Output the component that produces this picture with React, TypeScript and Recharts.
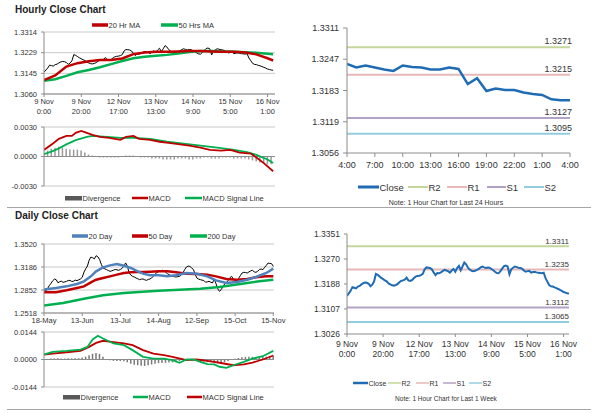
import React from 'react';
import { ComposedChart, Line, Bar, XAxis, YAxis, CartesianGrid, ReferenceLine } from 'recharts';

const FONT = "'Liberation Sans', Arial, Helvetica, sans-serif";
const TXT = '#333333';
const AXIS = '#8c8c8c';
const GRID = '#c9c9c9';
const RED = '#c00000';
const GREEN = '#00b050';
const BLUE20 = '#4f81bd';
const CLOSE_BLUE = '#1f6cb5';
const DIV_GRAY = '#9a9a9a';
const PIVOT_COLORS = ['#c3d69b', '#e6b9b8', '#b3a2c7', '#93cddd'];

// ---------------- Hourly (last week, 1 hour) ----------------
const hourlyTickIdx = [0, 20, 40, 60, 80, 100, 120];
const hourlyTickDay = ['9 Nov', '9 Nov', '12 Nov', '13 Nov', '14 Nov', '15 Nov', '16 Nov'];
const hourlyTickTime = ['0:00', '20:00', '17:00', '13:00', '9:00', '5:00', '1:00'];

const hourlyClose = [
  1.3149, 1.3158, 1.3166, 1.3178, 1.3176, 1.3174, 1.3180, 1.3182, 1.3187, 1.3191,
  1.3193, 1.3192, 1.3189, 1.3181, 1.3186, 1.3196, 1.3221, 1.3218, 1.3213, 1.3208,
  1.3204, 1.3200, 1.3197, 1.3190, 1.3187, 1.3184, 1.3183, 1.3185, 1.3188, 1.3194,
  1.3198, 1.3200, 1.3202, 1.3209, 1.3200, 1.3198, 1.3201, 1.3207, 1.3212, 1.3214,
  1.3215, 1.3217, 1.3221, 1.3236, 1.3242, 1.3241, 1.3240, 1.3236, 1.3226, 1.3217,
  1.3224, 1.3223, 1.3226, 1.3230, 1.3234, 1.3232, 1.3230, 1.3225, 1.3232, 1.3237,
  1.3228, 1.3240, 1.3247, 1.3233, 1.3245, 1.3258, 1.3252, 1.3241, 1.3235, 1.3231,
  1.3230, 1.3231, 1.3234, 1.3237, 1.3242, 1.3245, 1.3242, 1.3240, 1.3242, 1.3241,
  1.3237, 1.3233, 1.3228, 1.3224, 1.3223, 1.3230, 1.3238, 1.3246, 1.3248, 1.3245,
  1.3220, 1.3236, 1.3241, 1.3245, 1.3243, 1.3241, 1.3240, 1.3238, 1.3232, 1.3228,
  1.3230, 1.3231, 1.3225, 1.3227, 1.3228, 1.3226, 1.3225, 1.3224, 1.3223, 1.3225,
  1.3207, 1.3196, 1.3185, 1.3181, 1.3180, 1.3177, 1.3175, 1.3172, 1.3169, 1.3166,
  1.3162, 1.3160, 1.3158, 1.3157,
];
const hourlyMaIdx = [0, 6, 12, 18, 24, 30, 36, 42, 48, 54, 60, 66, 72, 78, 84, 90, 96, 102, 108, 114, 120, 123];
const hourlyMa20 = [1.3117, 1.3136, 1.3172, 1.3186, 1.3194, 1.3199, 1.3199, 1.3205, 1.3223, 1.3230, 1.3233, 1.3233, 1.3234, 1.3236, 1.3236, 1.3234, 1.3233, 1.3233, 1.3230, 1.3222, 1.3206, 1.3197];
const hourlyMa50 = [1.3114, 1.3120, 1.3134, 1.3149, 1.3158, 1.3169, 1.3182, 1.3195, 1.3206, 1.3212, 1.3216, 1.3220, 1.3226, 1.3232, 1.3236, 1.3236, 1.3234, 1.3233, 1.3231, 1.3229, 1.3225, 1.3223];
const hourlyYTicks = [1.30597, 1.31443, 1.3229, 1.33137];
const hourlyYLabels = ['1.3060', '1.3145', '1.3229', '1.3314'];

const hourlyMacdIdx = [0, 5, 8, 12, 15, 17, 20, 23, 26, 30, 35, 41, 44, 48, 51, 57, 62, 68, 73, 78, 84, 89, 95, 100, 105, 111, 114, 118, 123];
const hourlyMacd = [0.00067, 0.00134, 0.0018, 0.0021, 0.0021, 0.0024, 0.0026, 0.0024, 0.0022, 0.0020, 0.0019, 0.0017, 0.0020, 0.0021, 0.0018, 0.0017, 0.0015, 0.00137, 0.00124, 0.0011, 0.0009, 0.00067, 0.0006, 0.00067, 0.0004, 0.0003, -0.0001, -0.00067, -0.0015];
const hourlySignalIdx = [0, 5, 8, 12, 17, 23, 26, 34, 41, 48, 57, 66, 75, 84, 93, 102, 109, 114, 120, 123];
const hourlySignal = [0.00023, 0.00057, 0.00083, 0.00123, 0.00167, 0.0020, 0.0021, 0.0020, 0.0019, 0.0019, 0.0018, 0.0015, 0.0013, 0.0011, 0.0009, 0.00067, 0.00044, 0.00017, -0.0003, -0.00067];
const hourlyDiv = [
  0.0004, 0.0006, 0.0008, 0.0009, 0.0010, 0.0009, 0.0008, 0.0007, 0.0007, 0.0007,
  0.0006, 0.0004, 0.0002, 0.0001, 0.0000, -0.0001, -0.0001, -0.0001, -0.0001, -0.0001,
  -0.0001, 0.0000, 0.0001, 0.0001, 0.0001, 0.0000, -0.0001, -0.0001, -0.0001, -0.0002,
  -0.0002, -0.0002, -0.0003, -0.0003, -0.0003, -0.0003, -0.0002, -0.0002, -0.0002, -0.0003,
  -0.0003, -0.0002, -0.0002, -0.0001, -0.0001, -0.0002, -0.0002, -0.0002, -0.0001, -0.0001,
  -0.0001, -0.0002, -0.0002, -0.0002, -0.0002, -0.0003, -0.0004, -0.0005, -0.0006, -0.0007,
  -0.0008, -0.0008,
];
const hourlyMacdTicks = [-0.003, 0, 0.003];
const hourlyMacdLabels = ['-0.0030', '0.0000', '0.0030'];

// ---------------- Last 24 hours ----------------
const dayTickIdx = [0, 3, 6, 9, 12, 15, 18, 21, 24];
const dayTickLabels = ['4:00', '7:00', '10:00', '13:00', '16:00', '19:00', '22:00', '1:00', '4:00'];
const dayClose = [
  1.3237, 1.3230, 1.3234, 1.3230, 1.3226, 1.3223, 1.3234, 1.3231, 1.3230, 1.3226,
  1.3226, 1.3230, 1.3227, 1.3196, 1.3208, 1.3182, 1.3187, 1.3184, 1.3184, 1.3179,
  1.3176, 1.3174, 1.3165, 1.3163, 1.3163,
];
const dayYTicks = [1.30555, 1.31193, 1.3183, 1.32468, 1.33105];
const dayYLabels = ['1.3056', '1.3119', '1.3183', '1.3247', '1.3311'];
const pivotNames = ['R2', 'R1', 'S1', 'S2'];
const pivotsDay = [1.3271, 1.3215, 1.3127, 1.3095];
const pivotLabelsDay = ['1.3271', '1.3215', '1.3127', '1.3095'];

// ---------------- Week chart (right bottom) ----------------
const weekYTicks = [1.30257, 1.3107, 1.31882, 1.32695, 1.33507];
const weekYLabels = ['1.3026', '1.3107', '1.3188', '1.3270', '1.3351'];
const pivotsWeek = [1.3311, 1.3235, 1.3112, 1.3065];
const pivotLabelsWeek = ['1.3311', '1.3235', '1.3112', '1.3065'];

// ---------------- Daily ----------------
const dailyTickIdx = [0, 22, 44, 66, 88, 110, 132];
const dailyTickLabels = ['18-May', '13-Jun', '13-Jul', '14-Aug', '12-Sep', '15-Oct', '15-Nov'];
const dailyClose = [
  1.2860, 1.2838, 1.2870, 1.2915, 1.2948, 1.2985, 1.3010, 1.3002, 1.2958, 1.2972,
  1.2980, 1.2963, 1.2970, 1.2978, 1.2990, 1.2992, 1.2975, 1.2980, 1.2995, 1.2988,
  1.3000, 1.3012, 1.3035, 1.3110, 1.3160, 1.3200, 1.3285, 1.3330, 1.3320, 1.3305,
  1.3350, 1.3335, 1.3295, 1.3225, 1.3170, 1.3160, 1.3148, 1.3135, 1.3123, 1.3130,
  1.3140, 1.3150, 1.3145, 1.3138, 1.3150, 1.3168, 1.3200, 1.3245, 1.3200, 1.3100,
  1.3068, 1.3050, 1.3040, 1.3026, 1.3015, 1.3002, 1.3010, 1.3012, 1.3000, 1.2992,
  1.3005, 1.3012, 1.3030, 1.3050, 1.3085, 1.3105, 1.3118, 1.3125, 1.3140, 1.3130,
  1.3110, 1.3090, 1.3075, 1.3062, 1.3050, 1.3045, 1.3041, 1.3046, 1.3050, 1.3070,
  1.3099, 1.3150, 1.3186, 1.3200, 1.3195, 1.3172, 1.3150, 1.3080, 1.3026, 1.3010,
  1.3002, 1.2995, 1.2990, 1.2965, 1.2970, 1.2978, 1.2965, 1.2954, 1.3010, 1.2945,
  1.2870, 1.2833, 1.2857, 1.2900, 1.2940, 1.2960, 1.2990, 1.3030, 1.3050, 1.3012,
  1.2990, 1.2978, 1.3020, 1.3060, 1.3099, 1.3109, 1.3105, 1.3099, 1.3115, 1.3130,
  1.3138, 1.3115, 1.3109, 1.3123, 1.3150, 1.3157, 1.3147, 1.3180, 1.3210, 1.3244,
  1.3238, 1.3234, 1.3196,
];
const dailyMaIdx = [0, 7, 13, 19, 23, 27, 30, 34, 38, 42, 46, 50, 54, 57, 61, 66, 71, 76, 82, 88, 94, 99, 105, 111, 117, 122, 128, 132];
const dailyMa20 = [1.2860, 1.2881, 1.2905, 1.2939, 1.2978, 1.3050, 1.3123, 1.3181, 1.3210, 1.3230, 1.3205, 1.3172, 1.3123, 1.3089, 1.3065, 1.3065, 1.3050, 1.3065, 1.3099, 1.3089, 1.3050, 1.2992, 1.2954, 1.2968, 1.3002, 1.3041, 1.3099, 1.3162];
const dailyMa50 = [1.2818, 1.2818, 1.2847, 1.2881, 1.2905, 1.2963, 1.3002, 1.3026, 1.3050, 1.3075, 1.3099, 1.3109, 1.3112, 1.3114, 1.3118, 1.3123, 1.3123, 1.3109, 1.3089, 1.3084, 1.3075, 1.3050, 1.3012, 1.3002, 1.3012, 1.3036, 1.3050, 1.3050];
const dailyMa200Idx = [0, 11, 23, 34, 46, 57, 66, 78, 90, 101, 113, 124, 132];
const dailyMa200 = [1.2625, 1.2663, 1.2726, 1.2775, 1.2809, 1.2828, 1.2842, 1.2857, 1.2871, 1.2896, 1.2939, 1.2978, 1.3002];
const dailyYTicks = [1.2518, 1.2852, 1.3186, 1.3520];
const dailyYLabels = ['1.2518', '1.2852', '1.3186', '1.3520'];

const dailyMacdIdx = [0, 5, 13, 21, 25, 28, 31, 34, 40, 46, 51, 57, 63, 69, 74, 78, 82, 86, 90, 94, 98, 101, 105, 109, 115, 120, 126, 132];
const dailyMacd = [0.0026, 0.0040, 0.0045, 0.0052, 0.0066, 0.0105, 0.0124, 0.0110, 0.0084, 0.0075, 0.0049, 0.0014, 0.0005, 0.0005, -0.0003, -0.0017, 0.0000, 0.0000, -0.0012, -0.0024, -0.0026, -0.0038, -0.0044, -0.0030, -0.0012, 0.0005, 0.0017, 0.0045];
const dailySignalIdx = [0, 5, 13, 21, 26, 30, 34, 40, 46, 51, 57, 63, 69, 74, 82, 88, 94, 101, 109, 115, 120, 126, 132];
const dailySignal = [0.0026, 0.0031, 0.0038, 0.0045, 0.0066, 0.0087, 0.0098, 0.0091, 0.0084, 0.0075, 0.0049, 0.0031, 0.0023, 0.0014, -0.0003, 0.0000, -0.0007, -0.0017, -0.0030, -0.0026, -0.0016, 0.0000, 0.0021];
const dailyDiv = [
  0.0001, 0.0003, 0.0005, 0.0006, 0.0006, 0.0005, 0.0005, 0.0006, 0.0006, 0.0006,
  0.0007, 0.0010, 0.0015, 0.0022, 0.0030, 0.0034, 0.0030, 0.0015, 0.0003, -0.0004,
  -0.0007, -0.0008, -0.0008, -0.0009, -0.0015, -0.0022, -0.0027, -0.0030, -0.0033, -0.0034,
  -0.0030, -0.0026, -0.0022, -0.0019, -0.0018, -0.0017, -0.0016, -0.0015, -0.0012, -0.0008,
  -0.0002, 0.0003, 0.0002, 0.0000, -0.0004, -0.0008, -0.0012, -0.0014, -0.0013, -0.0012,
  -0.0015, -0.0016, -0.0014, -0.0008, -0.0002, 0.0004, 0.0008, 0.0012, 0.0013, 0.0014,
  0.0014, 0.0013, 0.0013, 0.0014, 0.0015, 0.0017, 0.0019,
];
const dailyMacdTicks = [-0.0144, 0, 0.0144];
const dailyMacdLabels = ['-0.0144', '0.0000', '0.0144'];

// ---------------- helpers ----------------
const range = (n: number) => Array.from({ length: n }, (_, k) => k);
const evens = (n: number) => Array.from({ length: n }, (_, k) => 2 * k);

function buildRows(n: number, cols: Array<[string, number[], number[]]>) {
  const out: Array<Record<string, number>> = range(n).map((i) => ({ i }));
  cols.forEach(([key, idx, val]) => {
    idx.forEach((ix, k) => {
      if (out[ix]) out[ix][key] = val[k];
    });
  });
  return out;
}

const labelFor = (ticks: number[], labels: string[]) => (v: number) => {
  let best = 0;
  ticks.forEach((t, k) => {
    if (Math.abs(t - v) < Math.abs(ticks[best] - v)) best = k;
  });
  return labels[best];
};

const hourlyRows = buildRows(hourlyClose.length, [
  ['close', range(hourlyClose.length), hourlyClose],
  ['ma20', hourlyMaIdx, hourlyMa20],
  ['ma50', hourlyMaIdx, hourlyMa50],
  ['macd', hourlyMacdIdx, hourlyMacd],
  ['signal', hourlySignalIdx, hourlySignal],
  ['div', evens(hourlyDiv.length), hourlyDiv],
]);
const dayRows = buildRows(dayClose.length, [['close', range(dayClose.length), dayClose]]);
const dailyRows = buildRows(dailyClose.length, [
  ['close', range(dailyClose.length), dailyClose],
  ['ma20', dailyMaIdx, dailyMa20],
  ['ma50', dailyMaIdx, dailyMa50],
  ['ma200', dailyMa200Idx, dailyMa200],
  ['macd', dailyMacdIdx, dailyMacd],
  ['signal', dailySignalIdx, dailySignal],
  ['div', evens(dailyDiv.length), dailyDiv],
]);

const tickStyle = (size: number) => ({ fontSize: size, fill: TXT, fontFamily: FONT });

const TwoLineTick = (props: any) => {
  const { x, y, payload, fontSize, gap } = props;
  const k = hourlyTickIdx.indexOf(payload.value);
  return (
    <text x={x} y={y} textAnchor="middle" fontSize={fontSize} fill={TXT} fontFamily={FONT}>
      <tspan x={x} dy="0.71em">{hourlyTickDay[k]}</tspan>
      <tspan x={x} dy={gap}>{hourlyTickTime[k]}</tspan>
    </text>
  );
};

const PivotLabel = (props: any) => {
  const vb = props.viewBox || {};
  const x = (vb.x || 0) + (vb.width || 0) + (props.dx || 0);
  const y = (vb.y || 0) - (props.lift || 3);
  return (
    <text x={x} y={y} textAnchor="end" fontSize={props.fontSize} fill={TXT} fontFamily={FONT}>
      {props.text}
    </text>
  );
};

// ---------------- overlay (titles, legends, notes) ----------------
type LegendItem = { label: string; color: string; x: number; w: number; rect?: boolean; t?: number };

const LegendRow = ({ y, items, size }: { y: number; items: LegendItem[]; size: number }) => (
  <g>
    {items.map((it) => (
      <g key={it.label}>
        {it.rect ? (
          <rect x={it.x} y={y - 2} width={it.w} height={4.5} fill={it.color} />
        ) : (
          <line x1={it.x} x2={it.x + it.w} y1={y} y2={y} stroke={it.color} strokeWidth={it.t || 3.5} />
        )}
        <text x={it.x + it.w + 0.5} y={y} dominantBaseline="central" fontSize={size} fill={TXT} fontFamily={FONT}>
          {it.label}
        </text>
      </g>
    ))}
  </g>
);

const Overlay = () => (
  <svg width={600} height={413} style={{ position: 'absolute', left: 0, top: 0, pointerEvents: 'none' }}>
    <text x={15} y={13} fontSize={10} fontWeight="bold" fill="#222" fontFamily={FONT}>Hourly Close Chart</text>
    <text x={15} y={219} fontSize={10} fontWeight="bold" fill="#222" fontFamily={FONT}>Daily Close Chart</text>

    <LegendRow y={25} size={7.5} items={[
      { label: '20 Hr MA', color: RED, x: 92, w: 16 },
      { label: '50 Hrs MA', color: GREEN, x: 161, w: 17 },
    ]} />
    <LegendRow y={198} size={7.5} items={[
      { label: 'Divergence', color: '#595959', x: 65, w: 17, rect: true },
      { label: 'MACD', color: RED, x: 132, w: 16, t: 2.5 },
      { label: 'MACD Signal Line', color: GREEN, x: 185, w: 17, t: 2.5 },
    ]} />
    <LegendRow y={236} size={7.5} items={[
      { label: '20 Day', color: BLUE20, x: 72, w: 16 },
      { label: '50 Day', color: RED, x: 132, w: 16 },
      { label: '200 Day', color: GREEN, x: 190, w: 17 },
    ]} />
    <LegendRow y={397} size={7.5} items={[
      { label: 'Divergence', color: '#595959', x: 63, w: 17, rect: true },
      { label: 'MACD', color: GREEN, x: 133, w: 15, t: 2.5 },
      { label: 'MACD Signal Line', color: RED, x: 187, w: 15, t: 2.5 },
    ]} />
    <LegendRow y={187} size={9.5} items={[
      { label: 'Close', color: CLOSE_BLUE, x: 358, w: 21, t: 3 },
      { label: pivotNames[0], color: PIVOT_COLORS[0], x: 408, w: 20, t: 2 },
      { label: pivotNames[1], color: PIVOT_COLORS[1], x: 447, w: 20, t: 2 },
      { label: pivotNames[2], color: PIVOT_COLORS[2], x: 487, w: 19, t: 2 },
      { label: pivotNames[3], color: PIVOT_COLORS[3], x: 524, w: 20, t: 2 },
    ]} />
    <text x={446} y={202} textAnchor="middle" dominantBaseline="central" fontSize={7} fill={TXT} fontFamily={FONT}>
      Note: 1 Hour Chart for Last 24 Hours
    </text>
    <LegendRow y={383} size={7} items={[
      { label: 'Close', color: CLOSE_BLUE, x: 353, w: 15, t: 2.5 },
      { label: pivotNames[0], color: PIVOT_COLORS[0], x: 388, w: 13, t: 1.5 },
      { label: pivotNames[1], color: PIVOT_COLORS[1], x: 416, w: 13, t: 1.5 },
      { label: pivotNames[2], color: PIVOT_COLORS[2], x: 443, w: 13, t: 1.5 },
      { label: pivotNames[3], color: PIVOT_COLORS[3], x: 469, w: 13, t: 1.5 },
    ]} />
    <text x={446} y={398} textAnchor="middle" dominantBaseline="central" fontSize={6.5} fill={TXT} fontFamily={FONT}>
      Note: 1 Hour Chart for  Last 1 Week
    </text>

    <line x1={7} x2={591} y1={207.5} y2={207.5} stroke="#a6a6a6" strokeWidth={1} />
    <line x1={7} x2={591} y1={409.5} y2={409.5} stroke="#a6a6a6" strokeWidth={1} />
  </svg>
);

const axisProps = { stroke: AXIS, tickLine: { stroke: AXIS } } as const;

export default function App() {
  return (
    <div style={{ position: 'absolute', left: 0, top: 0, width: 600, height: 413, background: '#fff', fontFamily: FONT }}>
      {/* Hourly price */}
      <div style={{ position: 'absolute', left: 0, top: 0 }}>
        <ComposedChart width={290} height={120} data={hourlyRows} margin={{ top: 32, right: 15, bottom: 4, left: 4 }}>
          <CartesianGrid vertical={false} stroke={GRID} />
          <XAxis dataKey="i" type="number" domain={[0, 124]} ticks={hourlyTickIdx} interval={0} allowDataOverflow
            height={22} tickSize={3} tickMargin={2} {...axisProps}
            tick={(p: any) => <TwoLineTick {...p} fontSize={7.5} gap={10} />} />
          <YAxis type="number" domain={[hourlyYTicks[0], hourlyYTicks[3]]} ticks={hourlyYTicks} interval={0} allowDataOverflow
            width={40} tickSize={3} tickMargin={4} tick={tickStyle(7.5)} tickFormatter={labelFor(hourlyYTicks, hourlyYLabels)} {...axisProps} />
          <Line dataKey="close" stroke="#000" strokeWidth={1} dot={false} isAnimationActive={false} />
          <Line dataKey="ma50" stroke={GREEN} strokeWidth={2.5} dot={false} connectNulls isAnimationActive={false} />
          <Line dataKey="ma20" stroke={RED} strokeWidth={2.5} dot={false} connectNulls isAnimationActive={false} />
        </ComposedChart>
      </div>

      {/* Hourly MACD */}
      <div style={{ position: 'absolute', left: 0, top: 110 }}>
        <ComposedChart width={290} height={100} data={hourlyRows} margin={{ top: 17, right: 15, bottom: 24, left: 4 }}>
          <CartesianGrid vertical={false} stroke={GRID} />
          <XAxis dataKey="i" type="number" domain={[0, 124]} hide allowDataOverflow />
          <YAxis type="number" domain={[-0.003, 0.003]} ticks={hourlyMacdTicks} interval={0} allowDataOverflow
            width={40} tickSize={3} tickMargin={4} tick={tickStyle(7.5)} tickFormatter={labelFor(hourlyMacdTicks, hourlyMacdLabels)} {...axisProps} />
          <ReferenceLine y={0} stroke={AXIS} />
          <Bar dataKey="div" fill={DIV_GRAY} barSize={1.5} isAnimationActive={false} />
          <Line dataKey="signal" stroke={GREEN} strokeWidth={1.8} dot={false} connectNulls isAnimationActive={false} />
          <Line dataKey="macd" stroke={RED} strokeWidth={1.8} dot={false} connectNulls isAnimationActive={false} />
        </ComposedChart>
      </div>

      {/* Last 24 hours */}
      <div style={{ position: 'absolute', left: 300, top: 0 }}>
        <ComposedChart width={290} height={210} data={dayRows} margin={{ top: 28, right: 20, bottom: 37, left: 4 }}>
          <XAxis dataKey="i" type="number" domain={[0, 24]} ticks={dayTickIdx} interval={0} allowDataOverflow
            height={20} tickSize={4} tickMargin={5} tick={tickStyle(9)} tickFormatter={labelFor(dayTickIdx, dayTickLabels)} {...axisProps} />
          <YAxis type="number" domain={[dayYTicks[0], dayYTicks[4]]} ticks={dayYTicks} interval={0} allowDataOverflow
            width={43} tickSize={4} tickMargin={4} tick={tickStyle(9)} tickFormatter={labelFor(dayYTicks, dayYLabels)} {...axisProps} />
          {pivotsDay.map((v, k) => (
            <ReferenceLine key={pivotNames[k]} y={v} stroke={PIVOT_COLORS[k]} strokeWidth={2}
              label={<PivotLabel text={pivotLabelsDay[k]} fontSize={9} lift={3} dx={2} />} />
          ))}
          <Line dataKey="close" stroke={CLOSE_BLUE} strokeWidth={2.5} dot={false} isAnimationActive={false} />
        </ComposedChart>
      </div>

      {/* Last week */}
      <div style={{ position: 'absolute', left: 300, top: 210 }}>
        <ComposedChart width={290} height={203} data={hourlyRows} margin={{ top: 24, right: 21, bottom: 55, left: 4 }}>
          <XAxis dataKey="i" type="number" domain={[0, 123]} ticks={hourlyTickIdx} interval={0} allowDataOverflow
            height={24} tickSize={3} tickMargin={4} {...axisProps}
            tick={(p: any) => <TwoLineTick {...p} fontSize={8.5} gap={10} />} />
          <YAxis type="number" domain={[weekYTicks[0], weekYTicks[4]]} ticks={weekYTicks} interval={0} allowDataOverflow
            width={43} tickSize={3} tickMargin={4} tick={tickStyle(8.5)} tickFormatter={labelFor(weekYTicks, weekYLabels)} {...axisProps} />
          {pivotsWeek.map((v, k) => (
            <ReferenceLine key={pivotNames[k]} y={v} stroke={PIVOT_COLORS[k]} strokeWidth={2}
              label={<PivotLabel text={pivotLabelsWeek[k]} fontSize={8} lift={2.5} dx={0} />} />
          ))}
          <Line dataKey="close" stroke={CLOSE_BLUE} strokeWidth={2} dot={false} isAnimationActive={false} />
        </ComposedChart>
      </div>

      {/* Daily price */}
      <div style={{ position: 'absolute', left: 0, top: 200 }}>
        <ComposedChart width={290} height={130} data={dailyRows} margin={{ top: 44, right: 16, bottom: 3, left: 4 }}>
          <CartesianGrid vertical={false} stroke={GRID} />
          <XAxis dataKey="i" type="number" domain={[0, 132.4]} ticks={dailyTickIdx} interval={0} allowDataOverflow
            height={14} tickSize={3} tickMargin={2} tick={tickStyle(7.5)} tickFormatter={labelFor(dailyTickIdx, dailyTickLabels)} {...axisProps} />
          <YAxis type="number" domain={[dailyYTicks[0], dailyYTicks[3]]} ticks={dailyYTicks} interval={0} allowDataOverflow
            width={40} tickSize={3} tickMargin={4} tick={tickStyle(7.5)} tickFormatter={labelFor(dailyYTicks, dailyYLabels)} {...axisProps} />
          <Line dataKey="close" stroke="#000" strokeWidth={1} dot={false} isAnimationActive={false} />
          <Line dataKey="ma200" stroke={GREEN} strokeWidth={2.5} dot={false} connectNulls isAnimationActive={false} />
          <Line dataKey="ma50" stroke={RED} strokeWidth={2.5} dot={false} connectNulls isAnimationActive={false} />
          <Line dataKey="ma20" stroke={BLUE20} strokeWidth={2.5} dot={false} connectNulls isAnimationActive={false} />
        </ComposedChart>
      </div>

      {/* Daily MACD */}
      <div style={{ position: 'absolute', left: 0, top: 320 }}>
        <ComposedChart width={290} height={93} data={dailyRows} margin={{ top: 12, right: 16, bottom: 26, left: 4 }}>
          <CartesianGrid vertical={false} stroke={GRID} />
          <XAxis dataKey="i" type="number" domain={[0, 132.4]} hide allowDataOverflow />
          <YAxis type="number" domain={[-0.0144, 0.0144]} ticks={dailyMacdTicks} interval={0} allowDataOverflow
            width={40} tickSize={3} tickMargin={4} tick={tickStyle(7.5)} tickFormatter={labelFor(dailyMacdTicks, dailyMacdLabels)} {...axisProps} />
          <ReferenceLine y={0} stroke={AXIS} />
          <Bar dataKey="div" fill="#7a7a7a" barSize={1.5} isAnimationActive={false} />
          <Line dataKey="signal" stroke={RED} strokeWidth={1.8} dot={false} connectNulls isAnimationActive={false} />
          <Line dataKey="macd" stroke={GREEN} strokeWidth={1.8} dot={false} connectNulls isAnimationActive={false} />
        </ComposedChart>
      </div>

      <Overlay />
    </div>
  );
}
